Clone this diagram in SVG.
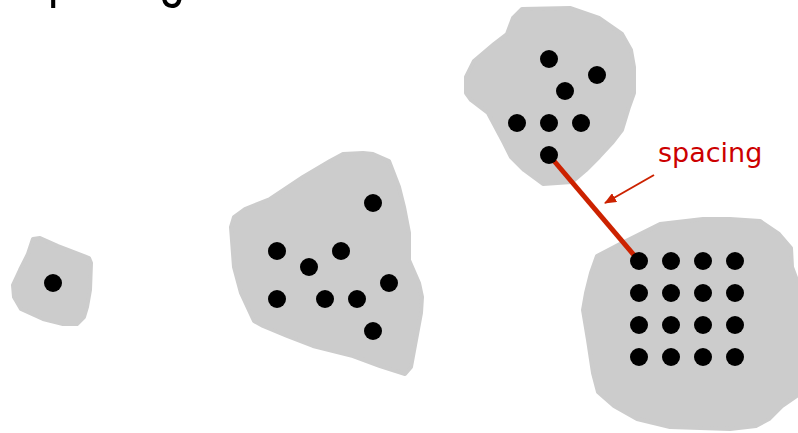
<svg xmlns="http://www.w3.org/2000/svg" width="798" height="433" viewBox="0 0 798 433">
<style>
.blob{fill:#cccccc;stroke:#cccccc;stroke-width:4;stroke-linejoin:round}
.dot{fill:#000000}
.title{font-family:"Liberation Sans",Arial,sans-serif;font-size:62px;fill:#000000}
.lbl{font-family:"DejaVu Sans",sans-serif;font-size:27px;fill:#cc0000}
</style>
<defs>
<marker id="ah" markerWidth="12" markerHeight="10" refX="11" refY="5" orient="auto" markerUnits="userSpaceOnUse">
<path d="M0,0 L12,5 L0,10 Z" fill="#cc2200"/>
</marker>
</defs>
<text class="title" x="17" y="-5" textLength="168" lengthAdjust="spacingAndGlyphs">Spacing</text>
<g id="cluster-small">
<path class="blob" d="M33,239 L40,238 L58,246 L89,258 L91,263 L90,290 L87,307 L84,317 L77,324 L63,324 L43,319 L21,309 L14,297 L13,285 L20,270 L28,254 Z"/>
<circle class="dot" cx="53" cy="283" r="9"/>
</g>
<g id="cluster-middle">
<path class="blob" d="M343,154 L363,153 L373,154 L389,161 L399,187 L404,207 L409,233 L409,260 L419,283 L422,297 L421,313 L416,340 L411,367 L405,374 L380,366 L353,356 L313,346 L287,336 L263,326 L254,321 L241,293 L234,267 L231,227 L234,217 L245,209 L270,199 L303,177 L330,161 Z"/>
<circle class="dot" cx="373" cy="203" r="9"/>
<circle class="dot" cx="277" cy="251" r="9"/>
<circle class="dot" cx="341" cy="251" r="9"/>
<circle class="dot" cx="309" cy="267" r="9"/>
<circle class="dot" cx="389" cy="283" r="9"/>
<circle class="dot" cx="277" cy="299" r="9"/>
<circle class="dot" cx="325" cy="299" r="9"/>
<circle class="dot" cx="357" cy="299" r="9"/>
<circle class="dot" cx="373" cy="331" r="9"/>
</g>
<g id="cluster-top">
<path class="blob" d="M522,9 L570,8 L599,18 L622,34 L631,50 L634,67 L634,93 L629,107 L622,130 L612,143 L599,157 L586,170 L572,182 L543,184 L524,170 L511,157 L504,143 L488,113 L471,100 L466,93 L466,77 L474,61 L494,44 L507,34 L513,18 Z"/>
</g>
<g id="cluster-grid">
<path class="blob" d="M597,256 L620,244 L660,224 L703,219 L730,219 L760,221 L779,234 L791,248 L792,267 L798,283 L798,395 L782,406 L769,419 L756,426 L730,429 L670,427 L637,419 L614,406 L598,392 L593,373 L588,340 L583,310 L586,293 L591,273 Z"/>
</g>
<g id="connectors">
<line x1="549" y1="155" x2="639" y2="261" stroke="#cc2200" stroke-width="5"/>
<line x1="654" y1="175" x2="605" y2="203" stroke="#cc2200" stroke-width="2" marker-end="url(#ah)"/>
</g>
<g id="cluster-top-dots">
<circle class="dot" cx="549" cy="59" r="9"/>
<circle class="dot" cx="597" cy="75" r="9"/>
<circle class="dot" cx="565" cy="91" r="9"/>
<circle class="dot" cx="517" cy="123" r="9"/>
<circle class="dot" cx="549" cy="123" r="9"/>
<circle class="dot" cx="581" cy="123" r="9"/>
<circle class="dot" cx="549" cy="155" r="9"/>
</g>
<g id="cluster-grid-dots">
<circle class="dot" cx="639" cy="261" r="9"/><circle class="dot" cx="671" cy="261" r="9"/><circle class="dot" cx="703" cy="261" r="9"/><circle class="dot" cx="735" cy="261" r="9"/>
<circle class="dot" cx="639" cy="293" r="9"/><circle class="dot" cx="671" cy="293" r="9"/><circle class="dot" cx="703" cy="293" r="9"/><circle class="dot" cx="735" cy="293" r="9"/>
<circle class="dot" cx="639" cy="325" r="9"/><circle class="dot" cx="671" cy="325" r="9"/><circle class="dot" cx="703" cy="325" r="9"/><circle class="dot" cx="735" cy="325" r="9"/>
<circle class="dot" cx="639" cy="357" r="9"/><circle class="dot" cx="671" cy="357" r="9"/><circle class="dot" cx="703" cy="357" r="9"/><circle class="dot" cx="735" cy="357" r="9"/>
</g>
<g id="label">
<text class="lbl" x="658" y="162">spacing</text>
</g>
</svg>
